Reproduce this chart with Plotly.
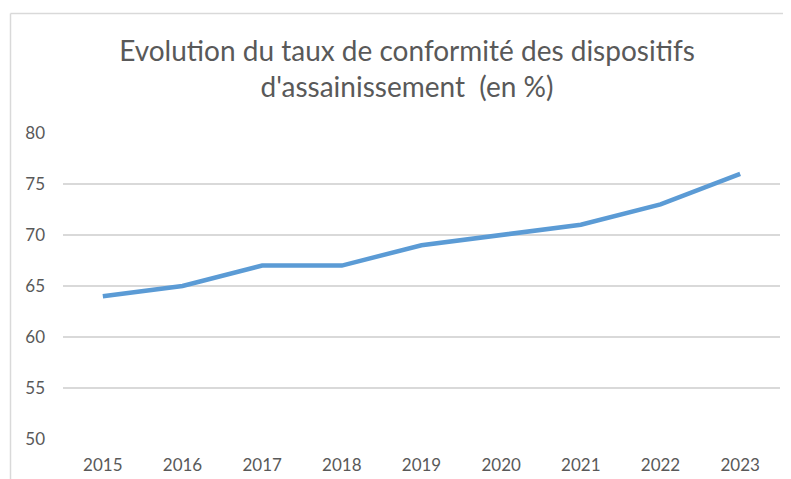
import plotly.graph_objects as go

years = ["2015", "2016", "2017", "2018", "2019", "2020", "2021", "2022", "2023"]
taux = [64, 65, 67, 67, 69, 70, 71, 73, 76]
y_ticks = [50, 55, 60, 65, 70, 75, 80]

# page has an 8px body margin: build the figure 8px smaller and offset
OFF = 8
W, H = 791 - OFF, 479 - OFF
L, R, T, B = 63 - OFF, 11, 133 - OFF, 40
pw, ph = W - L - R, H - T - B

def px_x(x):  # page px -> paper x
    return (x - OFF - L) / pw

def px_y(y):  # page px -> paper y
    return (H - B - (y - OFF)) / ph

FONT = "Lato, 'Open Sans', sans-serif"

fig = go.Figure()
fig.add_trace(go.Scatter(
    x=years, y=taux, mode="lines",
    line=dict(color="#5B9BD5", width=4.5, shape="linear"),
    hoverinfo="x+y", showlegend=False,
))

border = dict(color="#D9D9D9", width=1.5)
fig.update_layout(
    width=W, height=H,
    margin=dict(l=L, r=R, t=T, b=B, autoexpand=False),
    paper_bgcolor="white", plot_bgcolor="white",
    font=dict(family=FONT, color="#595959", size=17),
    title=dict(
        text="Evolution du taux de conformité des dispositifs<br>d'assainissement  (en %)",
        x=px_x(407), xref="paper", xanchor="center",
        y=(H - (61 - OFF)) / H, yref="container", yanchor="middle",
        font=dict(size=28, color="#595959", family=FONT),
    ),
    xaxis=dict(
        type="category", showgrid=False, zeroline=False, showline=False,
        ticks="", tickfont=dict(size=17, color="#595959"), automargin=False,
        range=[-0.5, len(years) - 0.5], ticklabelstandoff=14,
    ),
    yaxis=dict(
        range=[50, 80], tickvals=y_ticks, ticktext=[str(v) for v in y_ticks],
        showgrid=True, gridcolor="#D9D9D9", gridwidth=1.5, automargin=False,
        zeroline=False, showline=False, ticks="",
        tickfont=dict(size=17, color="#595959"), ticklabelstandoff=17,
    ),
    shapes=[
        dict(type="line", xref="paper", yref="paper",
             x0=px_x(10.5), x1=px_x(791), y0=px_y(13.5), y1=px_y(13.5),
             line=border, layer="below"),
        dict(type="line", xref="paper", yref="paper",
             x0=px_x(10.5), x1=px_x(10.5), y0=px_y(13.5), y1=px_y(479),
             line=border, layer="below"),
    ],
)

fig.write_html("out.html", config={"displayModeBar": False})
